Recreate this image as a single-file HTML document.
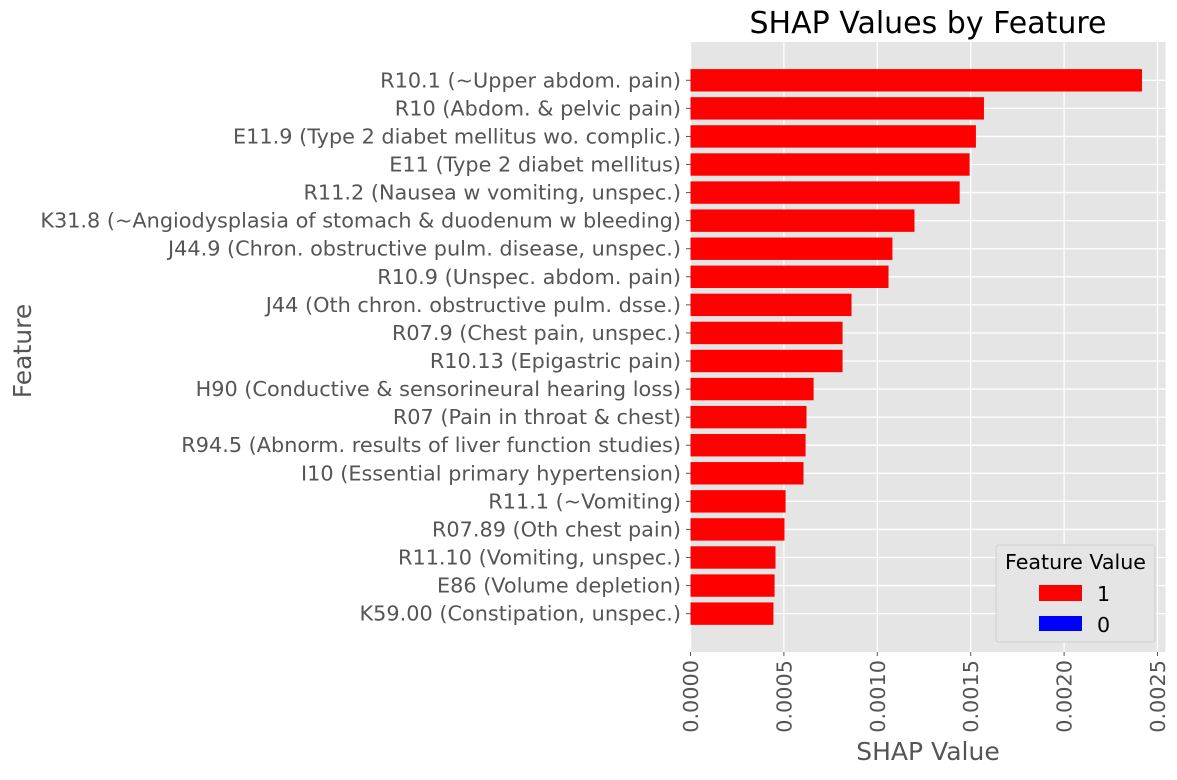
<!DOCTYPE html>
<html><head><meta charset="utf-8"><style>
body{margin:0;background:#fff;}
svg text{font-family:"DejaVu Sans","Liberation Sans",sans-serif;}
</style></head><body>
<svg id="chart" width="1177" height="775" xmlns="http://www.w3.org/2000/svg">
<rect x="0" y="0" width="1177" height="775" fill="#fff"/>
<rect x="690.5" y="42" width="475" height="610" fill="#e5e5e5"/>
<g id="grid"></g>
<g id="bars"></g>
<g id="yticks"></g>
<g id="xticks"></g>
<text x="928" y="33" font-size="30" text-anchor="middle" fill="#000">SHAP Values by Feature</text>
<text x="928" y="760" font-size="25" text-anchor="middle" fill="#555">SHAP Value</text>
<text x="0" y="0" font-size="25" text-anchor="middle" fill="#555" transform="translate(31,351) rotate(-90)">Feature</text>
<g>
<rect x="996" y="545" width="159" height="97" rx="3" fill="#e5e5e5" stroke="#d0d0d0" stroke-width="1"/>
<text x="1075.5" y="569" font-size="20.6" text-anchor="middle" fill="#000">Feature Value</text>
<rect x="1039" y="585" width="43" height="16" fill="#ff0000"/>
<text x="1097" y="601" font-size="20.6" fill="#000">1</text>
<rect x="1039" y="616" width="43" height="15" fill="#0000ff"/>
<text x="1097" y="632" font-size="20.6" fill="#000">0</text>
</g>
</svg>
<script>
const features = ["R10.1 (~Upper abdom. pain)","R10 (Abdom. & pelvic pain)","E11.9 (Type 2 diabet mellitus wo. complic.)","E11 (Type 2 diabet mellitus)","R11.2 (Nausea w vomiting, unspec.)","K31.8 (~Angiodysplasia of stomach & duodenum w bleeding)","J44.9 (Chron. obstructive pulm. disease, unspec.)","R10.9 (Unspec. abdom. pain)","J44 (Oth chron. obstructive pulm. dsse.)","R07.9 (Chest pain, unspec.)","R10.13 (Epigastric pain)","H90 (Conductive & sensorineural hearing loss)","R07 (Pain in throat & chest)","R94.5 (Abnorm. results of liver function studies)","I10 (Essential primary hypertension)","R11.1 (~Vomiting)","R07.89 (Oth chest pain)","R11.10 (Vomiting, unspec.)","E86 (Volume depletion)","K59.00 (Constipation, unspec.)"];
const shapValues = [0.002417,0.001571,0.001528,0.001494,0.001441,0.001199,0.001081,0.001060,0.000862,0.000814,0.000814,0.000659,0.000621,0.000616,0.000605,0.000509,0.000503,0.000455,0.000450,0.000444];
const xTicks = [0,0.0005,0.0010,0.0015,0.0020,0.0025];
const xTickLabels = ["0.0000","0.0005","0.0010","0.0015","0.0020","0.0025"];
const NS="http://www.w3.org/2000/svg";
const x0=690.5, pxPerUnit=186800;
function xs(v){return x0+v*pxPerUnit;}
const yTop=80.3, yStep=28.07;
function ys(i){return yTop+i*yStep;}
function mk(tag,attrs,parent){const e=document.createElementNS(NS,tag);for(const k in attrs)e.setAttribute(k,attrs[k]);parent.appendChild(e);return e;}
const grid=document.getElementById('grid'),bars=document.getElementById('bars'),yt=document.getElementById('yticks'),xt=document.getElementById('xticks');
xTicks.forEach((t,i)=>{
  const x=xs(t);
  const g=mk('line',{x1:x,x2:x,y1:42,y2:652,stroke:'#fff','stroke-width':1.3},grid);
  
  
  const tk=mk('line',{x1:x,x2:x,y1:652,y2:656,stroke:'#555','stroke-width':1},xt);
  
  
  const tx=mk('text',{x:0,y:0,'font-size':20.8,fill:'#555','text-anchor':'end',transform:`translate(${x+7.5},660) rotate(-90)`},xt);
  tx.textContent=xTickLabels[i];
  
  
});
features.forEach((f,i)=>{
  const y=ys(i);
  const g=mk('line',{x1:690.5,x2:1165.5,y1:y,y2:y,stroke:'#fff','stroke-width':1.3},grid);
  
  
  const b=mk('rect',{x:x0,y:y-11.2,width:xs(shapValues[i])-x0,height:22.4,fill:'#ff0000'},bars);
  
  
  const tk=mk('line',{x1:686,x2:690.5,y1:y,y2:y,stroke:'#555','stroke-width':1},yt);
  
  
  const tx=mk('text',{x:681,y:y+7,'font-size':20.8,fill:'#555','text-anchor':'end'},yt);
  tx.textContent=f;
  
  
});
</script>
</body></html>
